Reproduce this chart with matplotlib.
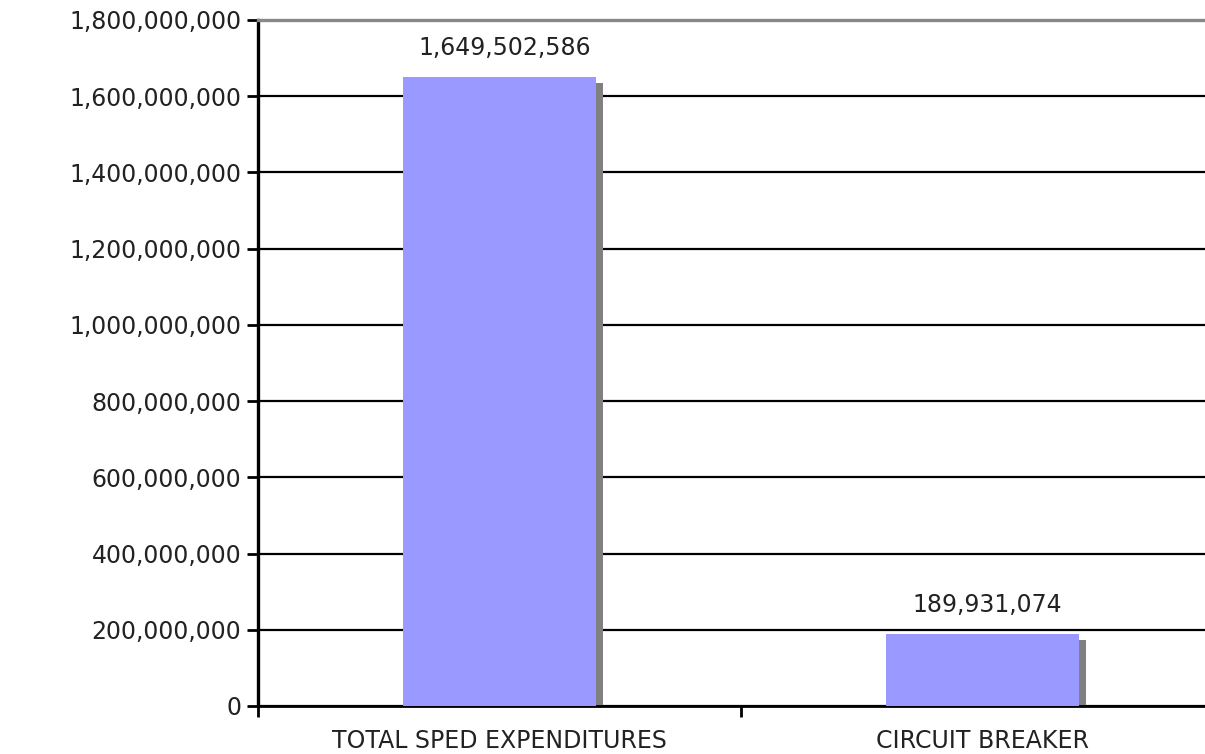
import matplotlib
matplotlib.use("Agg")
import matplotlib.pyplot as plt
from matplotlib.transforms import offset_copy, Bbox, TransformedBbox

categories = ["TOTAL SPED EXPENDITURES", "CIRCUIT BREAKER"]
amounts = [1649502586, 189931074]
y_ticks = list(range(0, 1800000001, 200000000))

BAR_COLOR = "#9999FF"
SHADOW_COLOR = "#808080"
TEXT_COLOR = "#222222"
BAR_WIDTH = 0.4
FONT_SIZE = 17

fig = plt.figure(figsize=(12.05, 7.54), dpi=100)
ax = fig.add_axes([0.2141, 0.0637, 0.8017, 0.9098])

x = [i + 0.5 for i in range(len(categories))]

# grey drop shadow sits a few pixels right of and below each bar
shadow_tf = offset_copy(ax.transData, fig=fig, x=7, y=-6, units="dots")
ax.bar(x, amounts, width=BAR_WIDTH, color=SHADOW_COLOR, transform=shadow_tf,
       zorder=2)
ax.bar(x, amounts, width=BAR_WIDTH, color=BAR_COLOR, zorder=3)

ax.set_xlim(0, len(categories))
ax.set_ylim(0, 1800000000)

# value labels, cut off at the bar's right edge
label_tf = offset_copy(ax.transData, fig=fig, x=0, y=17, units="dots")
for xi, v in zip(x, amounts):
    t = ax.text(xi + 0.01, v, f"{v:,}", ha="center", va="bottom",
                fontsize=FONT_SIZE, color=TEXT_COLOR, zorder=4,
                transform=label_tf)
    clip = TransformedBbox(Bbox([[xi - 0.5, 0], [xi + BAR_WIDTH / 2, 1800000000]]),
                           ax.transData)
    t.set_clip_box(clip)
    t.set_clip_on(True)

ax.set_yticks(y_ticks)
ax.set_yticklabels([f"{v:,}" for v in y_ticks])
ax.set_xticks(range(len(categories) + 1))
ax.set_xticklabels([])
for xi, name in zip(x, categories):
    ax.text(xi, -0.033, name, transform=ax.get_xaxis_transform(),
            ha="center", va="top", fontsize=FONT_SIZE, color=TEXT_COLOR)

ax.tick_params(axis="y", direction="out", length=8, width=2, pad=4,
               labelsize=FONT_SIZE, labelcolor=TEXT_COLOR)
ax.tick_params(axis="x", direction="out", length=8, width=2)

ax.yaxis.grid(True, color="black", linewidth=1.6, zorder=1)
ax.set_axisbelow(True)

ax.spines["left"].set_linewidth(2.4)
ax.spines["left"].set_color("black")
ax.spines["bottom"].set_linewidth(2.0)
ax.spines["bottom"].set_color("black")
ax.spines["top"].set_linewidth(2.4)
ax.spines["top"].set_color("#888888")
ax.spines["right"].set_visible(False)

fig.savefig("out.png", dpi=100)
